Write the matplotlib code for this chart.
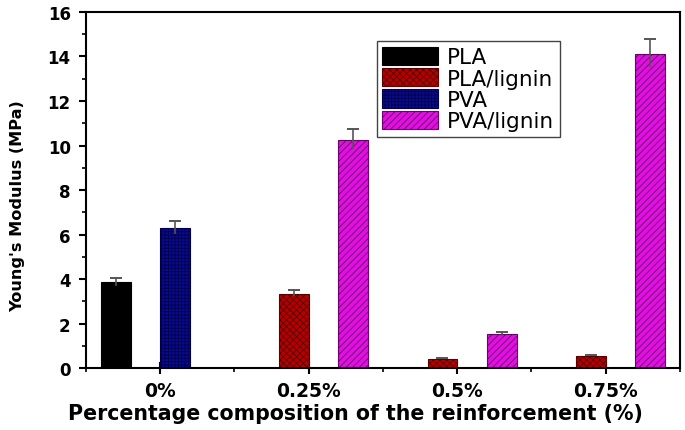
import numpy as np
import matplotlib
matplotlib.use('Agg')
import matplotlib.pyplot as plt
from matplotlib.ticker import MultipleLocator

plt.rcParams['font.family'] = ['DejaVu Sans']
plt.rcParams['hatch.linewidth'] = 0.6

groups = ['0%', '0.25%', '0.5%', '0.75%']
series = ['PLA', 'PLA/lignin', 'PVA', 'PVA/lignin']

pla = [3.85, 0, 0, 0]
pla_lignin = [0, 3.35, 0.42, 0.56]
pva = [6.3, 0, 0, 0]
pva_lignin = [0, 10.25, 1.53, 14.1]

pla_err = [0.2, 0, 0, 0]
pla_lignin_err = [0, 0.15, 0.03, 0.04]
pva_err = [0.33, 0, 0, 0]
pva_lignin_err = [0, 0.5, 0.08, 0.7]

faces = ['#000000', '#b50000', '#0b0b8e', '#e010e0']
edges = ['#000000', '#5a0000', '#00004a', '#6a006a']
hatches = ['', 'xxxxx', '+++++', '/////']

values = [pla, pla_lignin, pva, pva_lignin]
errors = [pla_err, pla_lignin_err, pva_err, pva_lignin_err]

fig = plt.figure(figsize=(6.85, 4.31), dpi=100)
ax = fig.add_axes([0.1255, 0.1435, 0.8672, 0.8265])

x = np.arange(len(groups))
w = 0.2
offsets = [-0.3, -0.1, 0.1, 0.3]

for i in range(4):
    vals = np.array(values[i])
    errs = np.array(errors[i])
    mask = vals > 0
    ax.bar(x[mask] + offsets[i], vals[mask], width=w, color=faces[i],
           edgecolor=edges[i], hatch=hatches[i], linewidth=0.8,
           label=series[i], zorder=2)
    # error bars: stem through the bar top, cap only above
    ax.errorbar(x[mask] + offsets[i], vals[mask],
                yerr=[errs[mask] * 0.8, errs[mask]], fmt='none',
                ecolor='#555555', elinewidth=1.2, capsize=0, zorder=3)
    ax.errorbar(x[mask] + offsets[i], vals[mask] + errs[mask],
                yerr=[np.zeros(mask.sum()), np.zeros(mask.sum())], fmt='none',
                ecolor='#555555', elinewidth=1.2, capsize=4, capthick=1.2, zorder=3)

ax.set_xlim(-0.5, 3.5)
ax.set_ylim(0, 16)
ax.set_xticks(x)
ax.set_xticklabels(groups)
ax.xaxis.set_minor_locator(MultipleLocator(0.5))
ax.yaxis.set_major_locator(MultipleLocator(2))
ax.yaxis.set_minor_locator(MultipleLocator(1))

for s in ax.spines.values():
    s.set_linewidth(1.5)
ax.tick_params(axis='y', which='major', direction='out', length=5, width=1.5,
               labelsize=12, pad=6)
ax.tick_params(axis='x', which='major', direction='inout', length=9, width=1.5,
               labelsize=13.5, pad=5)
ax.tick_params(axis='both', which='minor', direction='out', length=3, width=1.2)
for lbl in ax.get_xticklabels() + ax.get_yticklabels():
    lbl.set_fontweight('bold')

ax.set_xlabel('Percentage composition of the reinforcement (%)', fontsize=14.8,
              fontweight='bold')
ax.xaxis.set_label_coords(0.453, -0.098)
ax.set_ylabel("Young's Modulus (MPa)", fontsize=11.6, fontweight='bold')
ax.yaxis.set_label_coords(-0.102, 0.458)

leg = ax.legend(loc='upper left', bbox_to_anchor=(0.49, 0.918), fontsize=15.5,
                handlelength=2.6, handleheight=0.95, labelspacing=0.03,
                handletextpad=0.4, borderpad=0.25, borderaxespad=0,
                fancybox=False, framealpha=1, edgecolor='#444444')
leg.get_frame().set_linewidth(1.0)

fig.savefig('out.png', dpi=100)
